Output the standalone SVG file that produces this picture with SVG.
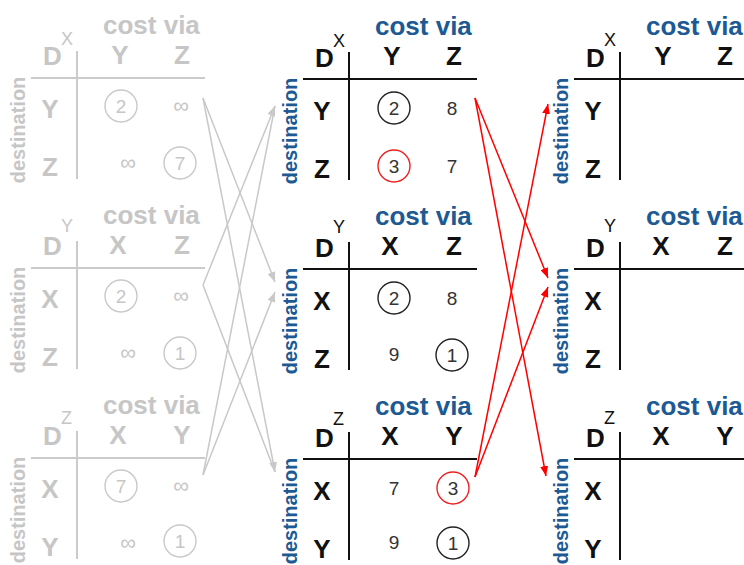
<svg xmlns="http://www.w3.org/2000/svg" width="744" height="565" viewBox="0 0 744 565">
<style>
text{font-family:"Liberation Sans",Arial,sans-serif}
.cv{font-size:26px;font-weight:bold;fill:#1d5a94}
.big{font-size:26px;font-weight:bold;fill:#111}
.sup{font-size:18px;fill:#111}
.dest{font-size:20px;font-weight:bold;fill:#1d5a94;text-anchor:middle}
.num{font-size:19px;fill:#333;text-anchor:middle}
.inf{font-size:22px;fill:#c6c6c6;text-anchor:middle}
.mid{text-anchor:middle}
.ln{stroke:#111;stroke-width:2;fill:none}
.circ{fill:none;stroke:#222;stroke-width:1.4}
.rc{fill:none;stroke:#ee2020;stroke-width:1.4}
.gray text{fill:#c6c6c6}
.gray .ln{stroke:#cbcbcb}
.gray .circ{stroke:#c8c8c8}
.gc{stroke:#c8c8c8;stroke-width:1.5;fill:none}
.rd{stroke:#ff0000;stroke-width:1.5;fill:none}
</style>
<defs>
<marker id="ag" viewBox="0 0 10 8" refX="10" refY="4" markerWidth="10" markerHeight="8" markerUnits="userSpaceOnUse" orient="auto"><path d="M0,0L10,4L0,8z" fill="#c8c8c8"/></marker>
<marker id="ar" viewBox="0 0 10 8" refX="10" refY="4" markerWidth="10" markerHeight="8" markerUnits="userSpaceOnUse" orient="auto"><path d="M0,0L10,4L0,8z" fill="#ff0000"/></marker>
</defs>

<!-- Left column (faded) -->
<g id="old-x" class="gray" transform="translate(-272,-1)">
<text class="cv" x="375" y="35">cost via</text>
<text class="big" x="315" y="66">D</text><text class="sup" x="333" y="46">X</text>
<text class="big mid" x="392" y="65">Y</text><text class="big mid" x="454" y="65">Z</text>
<path class="ln" d="M349,52V180M303,79H477"/>
<text class="dest" transform="translate(297,131) rotate(-90)">destination</text>
<text class="big mid" x="322" y="119">Y</text><text class="big mid" x="322" y="177">Z</text>
<circle class="circ" cx="393" cy="107" r="16"/><text class="num" x="393" y="114">2</text>
<text class="inf" x="453" y="114">∞</text>
<text class="inf" x="400" y="171">∞</text>
<circle class="circ" cx="452" cy="164" r="16"/><text class="num" x="452" y="171">7</text>
</g>
<g id="old-y" class="gray" transform="translate(-272,189)">
<text class="cv" x="375" y="35">cost via</text>
<text class="big" x="315" y="66">D</text><text class="sup" x="333" y="43">Y</text>
<text class="big mid" x="390" y="65">X</text><text class="big mid" x="454" y="65">Z</text>
<path class="ln" d="M349,52V180M303,79H477"/>
<text class="dest" transform="translate(297,131) rotate(-90)">destination</text>
<text class="big mid" x="322" y="119">X</text><text class="big mid" x="322" y="177">Z</text>
<circle class="circ" cx="393" cy="107" r="16"/><text class="num" x="393" y="114">2</text>
<text class="inf" x="453" y="114">∞</text>
<text class="inf" x="400" y="171">∞</text>
<circle class="circ" cx="452" cy="164" r="16"/><text class="num" x="452" y="171">1</text>
</g>
<g id="old-z" class="gray" transform="translate(-272,379)">
<text class="cv" x="375" y="35">cost via</text>
<text class="big" x="315" y="66">D</text><text class="sup" x="333" y="45">Z</text>
<text class="big mid" x="390" y="65">X</text><text class="big mid" x="454" y="65">Y</text>
<path class="ln" d="M349,52V180M303,79H477"/>
<text class="dest" transform="translate(297,131) rotate(-90)">destination</text>
<text class="big mid" x="322" y="119">X</text><text class="big mid" x="322" y="177">Y</text>
<circle class="circ" cx="393" cy="107" r="16"/><text class="num" x="393" y="114">7</text>
<text class="inf" x="453" y="114">∞</text>
<text class="inf" x="400" y="171">∞</text>
<circle class="circ" cx="452" cy="162" r="16"/><text class="num" x="452" y="169">1</text>
</g>

<!-- Middle column -->
<g id="mid-x">
<text class="cv" x="375" y="35">cost via</text>
<text class="big" x="315" y="67">D</text><text class="sup" x="333" y="47">X</text>
<text class="big mid" x="392" y="65">Y</text><text class="big mid" x="454" y="65">Z</text>
<path class="ln" d="M349,52V180M303,79H477"/>
<text class="dest" transform="translate(297,131) rotate(-90)">destination</text>
<text class="big mid" x="322" y="120">Y</text><text class="big mid" x="322" y="178">Z</text>
<circle class="circ" cx="394" cy="108" r="16"/><text class="num" x="394" y="115">2</text>
<text class="num" x="452" y="115">8</text>
<circle class="rc" cx="394" cy="166" r="16"/><text class="num" x="394" y="173">3</text>
<text class="num" x="452" y="173">7</text>
</g>
<g id="mid-y" transform="translate(0,190)">
<text class="cv" x="375" y="35">cost via</text>
<text class="big" x="315" y="67">D</text><text class="sup" x="333" y="43">Y</text>
<text class="big mid" x="390" y="65">X</text><text class="big mid" x="454" y="65">Z</text>
<path class="ln" d="M349,52V180M303,79H477"/>
<text class="dest" transform="translate(297,131) rotate(-90)">destination</text>
<text class="big mid" x="322" y="120">X</text><text class="big mid" x="322" y="178">Z</text>
<circle class="circ" cx="394" cy="108" r="16"/><text class="num" x="394" y="115">2</text>
<text class="num" x="452" y="115">8</text>
<text class="num" x="394" y="171">9</text>
<circle class="circ" cx="452" cy="165" r="16"/><text class="num" x="452" y="172">1</text>
</g>
<g id="mid-z" transform="translate(0,380)">
<text class="cv" x="375" y="35">cost via</text>
<text class="big" x="315" y="67">D</text><text class="sup" x="333" y="45">Z</text>
<text class="big mid" x="390" y="65">X</text><text class="big mid" x="454" y="65">Y</text>
<path class="ln" d="M349,52V180M303,79H477"/>
<text class="dest" transform="translate(297,131) rotate(-90)">destination</text>
<text class="big mid" x="322" y="120">X</text><text class="big mid" x="322" y="178">Y</text>
<text class="num" x="394" y="115">7</text>
<circle class="rc" cx="453" cy="108" r="16"/><text class="num" x="453" y="115">3</text>
<text class="num" x="394" y="169">9</text>
<circle class="circ" cx="453" cy="163" r="16"/><text class="num" x="453" y="170">1</text>
</g>

<!-- Right column -->
<g id="new-x" transform="translate(271,0)">
<text class="cv" x="375" y="35">cost via</text>
<text class="big" x="315" y="67">D</text><text class="sup" x="333" y="46">X</text>
<text class="big mid" x="392" y="65">Y</text><text class="big mid" x="454" y="65">Z</text>
<path class="ln" d="M349,52V180M303,79H480"/>
<text class="dest" transform="translate(297,131) rotate(-90)">destination</text>
<text class="big mid" x="322" y="120">Y</text><text class="big mid" x="322" y="178">Z</text>
</g>
<g id="new-y" transform="translate(271,190)">
<text class="cv" x="375" y="35">cost via</text>
<text class="big" x="315" y="67">D</text><text class="sup" x="333" y="42">Y</text>
<text class="big mid" x="390" y="65">X</text><text class="big mid" x="454" y="65">Z</text>
<path class="ln" d="M349,52V180M303,79H480"/>
<text class="dest" transform="translate(297,131) rotate(-90)">destination</text>
<text class="big mid" x="322" y="120">X</text><text class="big mid" x="322" y="178">Z</text>
</g>
<g id="new-z" transform="translate(271,380)">
<text class="cv" x="375" y="35">cost via</text>
<text class="big" x="315" y="67">D</text><text class="sup" x="333" y="44">Z</text>
<text class="big mid" x="390" y="65">X</text><text class="big mid" x="454" y="65">Y</text>
<path class="ln" d="M349,52V180M303,79H480"/>
<text class="dest" transform="translate(297,131) rotate(-90)">destination</text>
<text class="big mid" x="322" y="120">X</text><text class="big mid" x="322" y="178">Y</text>
</g>

<!-- Connectors -->
<g id="connectors">
<line class="gc" x1="203" y1="98" x2="275" y2="282" marker-end="url(#ag)"/>
<line class="gc" x1="203" y1="98" x2="275" y2="472" marker-end="url(#ag)"/>
<line class="gc" x1="203" y1="285" x2="275" y2="106" marker-end="url(#ag)"/>
<line class="gc" x1="203" y1="285" x2="275" y2="472"/>
<line class="gc" x1="203" y1="475" x2="275" y2="106"/>
<line class="gc" x1="203" y1="475" x2="275" y2="292" marker-end="url(#ag)"/>
<line class="rd" x1="475" y1="98" x2="548" y2="278" marker-end="url(#ar)"/>
<line class="rd" x1="475" y1="98" x2="546" y2="476" marker-end="url(#ar)"/>
<line class="rd" x1="475" y1="477" x2="548" y2="104" marker-end="url(#ar)"/>
<line class="rd" x1="475" y1="477" x2="548" y2="287" marker-end="url(#ar)"/>
</g>
</svg>
